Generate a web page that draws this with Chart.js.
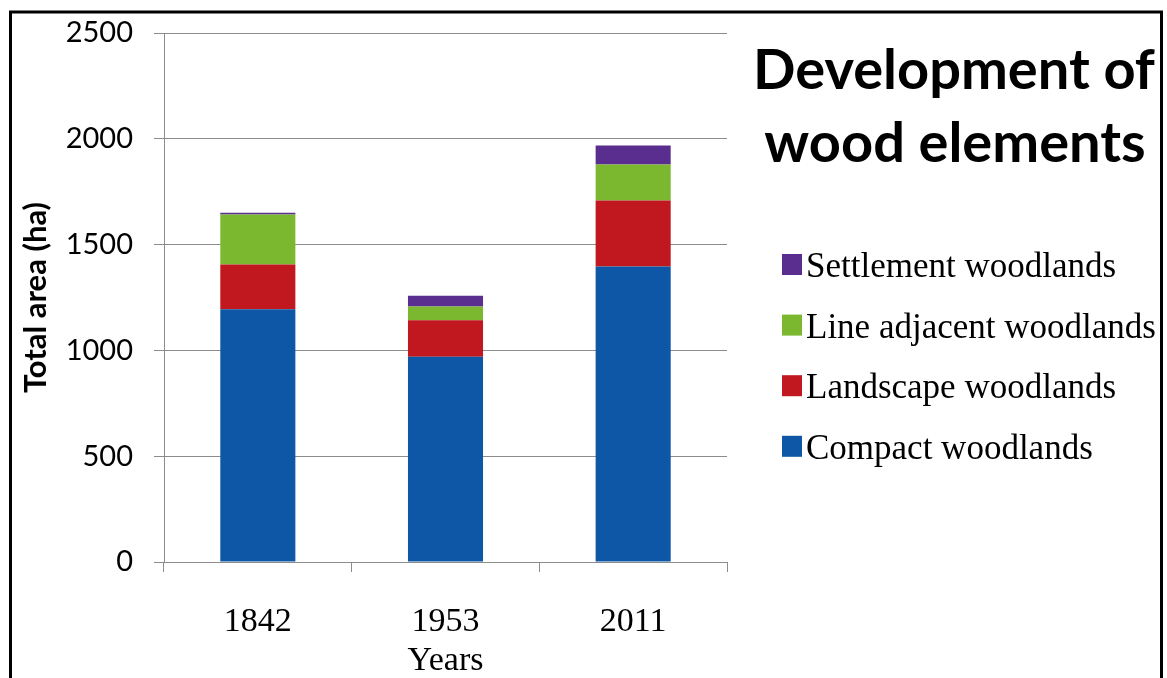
<!DOCTYPE html>
<html>
<head>
<meta charset="utf-8">
<script src="https://cdn.jsdelivr.net/npm/chart.js@4.4.1/dist/chart.umd.min.js"></script>
<style>
  html, body { margin: 0; padding: 0; background: #fff; }
  #wrap { width: 1167px; height: 678px; position: relative; }
</style>
</head>
<body>
<div id="wrap"><canvas id="myChart"></canvas></div>
<script>
const years = ['1842', '1953', '2011'];

const compactWoodlands = [1195, 970, 1397];
const landscapeWoodlands = [211, 172, 311];
const lineAdjacentWoodlands = [236, 66, 170];
const settlementWoodlands = [9, 50, 90];

const yTicks = [0, 500, 1000, 1500, 2000, 2500];

const titleLines = ['Development of', 'wood elements'];

// frame + title on the right
const framePlugin = {
    id: 'frame',
    afterDraw(chart) {
        const c = chart.ctx;
        c.save();
        c.strokeStyle = '#000';
        c.lineWidth = 3;
        c.beginPath();
        c.moveTo(10.5, 700);
        c.lineTo(10.5, 12);
        c.lineTo(1161.5, 12);
        c.lineTo(1161.5, 700);
        c.stroke();

        c.fillStyle = '#000';
        c.font = 'bold 56px Lato';
        c.textAlign = 'center';
        c.textBaseline = 'alphabetic';
        c.fillText(titleLines[0], 954, 89);
        c.fillText(titleLines[1], 955, 162);
        c.restore();
    }
};

// legend drawn from the datasets, top item = last dataset
const legendPlugin = {
    id: 'sideLegend',
    afterDraw(chart) {
        const c = chart.ctx;
        const sets = chart.data.datasets.slice().reverse();
        c.save();
        c.font = '35px "Liberation Serif"';
        c.textAlign = 'left';
        c.textBaseline = 'alphabetic';
        sets.forEach((ds, i) => {
            const y = 264 + i * 60.6;
            c.fillStyle = ds.backgroundColor;
            c.fillRect(782, y - 10, 20, 21);
            c.fillStyle = '#000';
            c.fillText(ds.label, 806, y + 13);
        });
        c.restore();
    }
};

const ctx = document.getElementById('myChart');
const myChart = new Chart(ctx, {
    type: 'bar',
    data: {
        labels: years,
        datasets: [
            { label: 'Compact woodlands', data: compactWoodlands, backgroundColor: '#0D57A6' },
            { label: 'Landscape woodlands', data: landscapeWoodlands, backgroundColor: '#C1171F' },
            { label: 'Line adjacent woodlands', data: lineAdjacentWoodlands, backgroundColor: '#7CB82F' },
            { label: 'Settlement woodlands', data: settlementWoodlands, backgroundColor: '#5A2E8E' }
        ]
    },
    options: {
        responsive: true,
        maintainAspectRatio: false,
        animation: false,
        categoryPercentage: 0.8,
        barPercentage: 0.5,
        layout: { padding: { left: 0, right: 440, top: 33, bottom: 0 } },
        plugins: {
            legend: { display: false },
            tooltip: { enabled: false }
        },
        scales: {
            x: {
                stacked: true,
                afterFit(scale) { scale.height = 116; },
                grid: {
                    drawOnChartArea: false,
                    drawTicks: true,
                    tickLength: 10,
                    color: '#8c8c8c'
                },
                border: { color: '#8c8c8c' },
                ticks: {
                    color: '#000',
                    padding: 30,
                    font: { family: '"Liberation Serif"', size: 34 }
                },
                title: {
                    display: true,
                    text: 'Years',
                    color: '#000',
                    padding: { top: 0, bottom: 0 },
                    font: { family: '"Liberation Serif"', size: 34, lineHeight: 1 }
                }
            },
            y: {
                stacked: true,
                min: 0,
                max: 2500,
                afterFit(scale) {
                    scale.width = 164;
                    scale.paddingTop = 0;
                    scale.paddingBottom = 0;
                },
                afterBuildTicks(scale) { scale.ticks = yTicks.map(v => ({ value: v })); },
                grid: {
                    color: '#8c8c8c',
                    tickLength: 10
                },
                border: { color: '#8c8c8c' },
                ticks: {
                    color: '#000',
                    padding: 21,
                    font: { family: 'Lato', size: 29 },
                    callback: v => String(v)
                },
                title: {
                    display: true,
                    text: 'Total area (ha)',
                    color: '#000',
                    padding: { top: 20, bottom: 0 },
                    font: { family: 'Lato', size: 31, weight: 'bold', lineHeight: 1 }
                }
            }
        }
    },
    plugins: [framePlugin, legendPlugin]
});
</script>
</body>
</html>
